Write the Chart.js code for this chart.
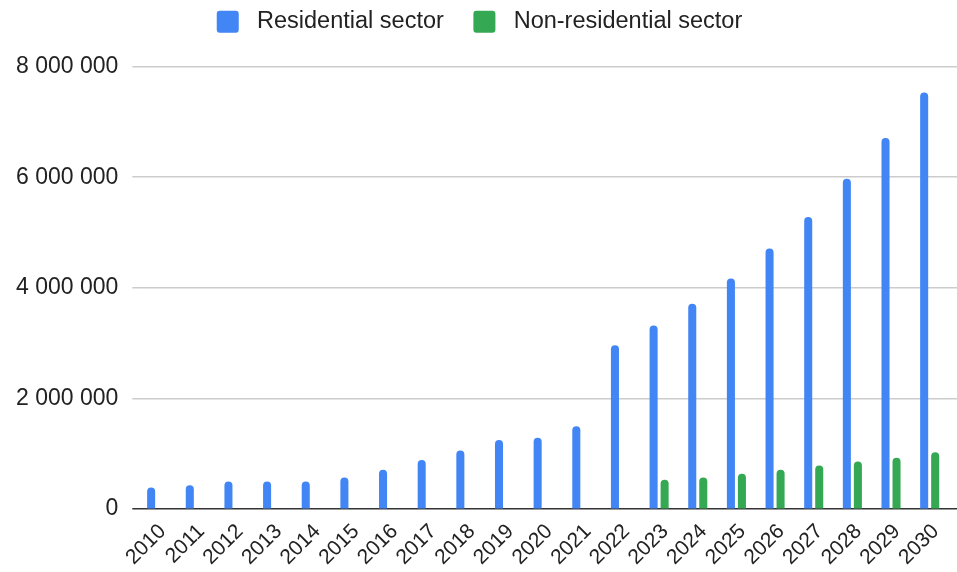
<!DOCTYPE html>
<html lang="en">
<head>
  <meta charset="UTF-8" />
  <title>Residential vs non-residential sector</title>
  <script src="https://cdn.jsdelivr.net/npm/chart.js"></script>
  <style>
    body { margin: 0; background: #ffffff; }
    .wrap { width: 957px; height: 572px; }
  </style>
</head>
<body>
  <div class="wrap"><canvas id="sectorChart"></canvas></div>

  <script>
    const years = ['2010', '2011', '2012', '2013', '2014', '2015', '2016', '2017', '2018', '2019', '2020',
                   '2021', '2022', '2023', '2024', '2025', '2026', '2027', '2028', '2029', '2030'];
    const residential = [390000, 430000, 500000, 500000, 500000, 570000, 710000, 890000, 1060000, 1250000, 1290000,
                         1500000, 2960000, 3320000, 3710000, 4170000, 4710000, 5280000, 5970000, 6710000, 7530000];
    const nonResidential = [null, null, null, null, null, null, null, null, null, null, null,
                            null, null, 530000, 570000, 640000, 710000, 790000, 860000, 930000, 1030000];
    const yTicks = [0, 2000000, 4000000, 6000000, 8000000];

    const font = 'Liberation Sans, Arial, sans-serif';
    const gridColor = ctx => ctx.tick && ctx.tick.value === 0 ? '#333333' : '#cccccc';
    const fmt = v => String(v).replace(/\B(?=(\d{3})+(?!\d))/g, ' ');

    // extra room between legend and plot
    const legendGap = {
      id: 'legendGap',
      beforeInit(chart) {
        const fit = chart.legend.fit;
        chart.legend.fit = function () {
          fit.bind(chart.legend)();
          this.height += 23;
        };
      }
    };

    const bar = {
      borderRadius: 4,
      categoryPercentage: 0.57,
      barPercentage: 0.73
    };

    new Chart(document.getElementById('sectorChart'), {
      type: 'bar',
      data: {
        labels: years,
        datasets: [
          { label: 'Residential sector', data: residential, backgroundColor: '#4285F4', ...bar },
          { label: 'Non-residential sector', data: nonResidential, backgroundColor: '#34A853', ...bar }
        ]
      },
      options: {
        responsive: true,
        maintainAspectRatio: false,
        animation: false,
        layout: { padding: { left: 2, right: 0, top: 0, bottom: 0 } },
        plugins: {
          legend: {
            position: 'top',
            labels: {
              boxWidth: 22,
              boxHeight: 22,
              useBorderRadius: true,
              borderRadius: 3,
              padding: 10,
              color: '#222222',
              font: { family: font, size: 23.5 },
              // a bit more air around the legend text
              generateLabels(chart) {
                const items = Chart.defaults.plugins.legend.labels.generateLabels(chart);
                return items.map((it, i) => ({
                  ...it,
                  text: ' ' + it.text + (i < items.length - 1 ? '   ' : '')
                }));
              }
            }
          },
          tooltip: { enabled: false }
        },
        scales: {
          x: {
            grid: { display: false },
            border: { display: false },
            ticks: {
              color: '#222222',
              font: { family: font, size: 21 },
              autoSkip: false,
              minRotation: 45,
              maxRotation: 45,
              labelOffset: 6,
              padding: 2
            }
          },
          y: {
            min: 0,
            max: 8000000,
            afterBuildTicks: axis => { axis.ticks = yTicks.map(v => ({ value: v })); },
            border: { display: false },
            grid: { color: gridColor, lineWidth: 1.5, tickLength: 5 },
            ticks: {
              color: '#222222',
              font: { family: font, size: 23 },
              padding: 14,
              callback: v => fmt(v)
            }
          },
          yRight: {
            position: 'right',
            min: 0,
            max: 8000000,
            afterBuildTicks: axis => { axis.ticks = yTicks.map(v => ({ value: v })); },
            border: { display: false },
            grid: { color: gridColor, lineWidth: 1.5, drawOnChartArea: false, tickLength: 8 },
            ticks: { display: false }
          }
        }
      },
      plugins: [legendGap]
    });
  </script>
</body>
</html>
